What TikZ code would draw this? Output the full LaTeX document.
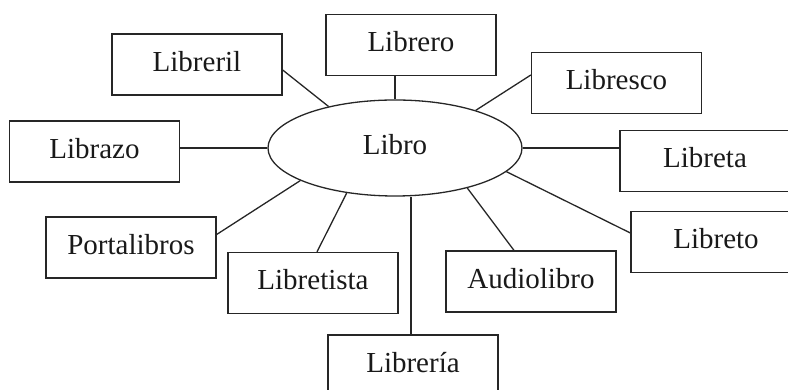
\documentclass[tikz,border=0pt]{standalone}
\usepackage{fontspec}
\setmainfont{Liberation Serif}
\usetikzlibrary{shapes.geometric}
\begin{document}
\begin{tikzpicture}[x=1pt,y=1pt,
  every node/.style={font=\fontsize{29}{34}\selectfont, text=black!90},
  wordbox/.style={draw=black!85, line width=1.3pt, minimum width=170pt, minimum height=61pt, inner sep=0pt, text height=20pt, text depth=6pt},
  hub/.style={ellipse, draw=black!85, line width=1.3pt, minimum width=254pt, minimum height=96pt, inner sep=0pt, text height=20pt, text depth=6pt},
  link/.style={draw=black!85, line width=1.3pt}]
\useasboundingbox (0,0) rectangle (788,390);
\clip (0,0) rectangle (788,390);
\node[hub] (libro) at (395,242) {Libro};
\node[wordbox] (libreril) at (197,325.5) {Libreril};
\node[wordbox] (librero) at (411,345) {Librero};
\node[wordbox] (libresco) at (616.5,307) {Libresco};
\node[wordbox] (librazo) at (94.5,238.5) {Librazo};
\node[wordbox] (libreta) at (705,229) {Libreta};
\node[wordbox] (portalibros) at (131,142.5) {Portalibros};
\node[wordbox] (libretista) at (313,107) {Libretista};
\node[wordbox] (audiolibro) at (531,108.5) {Audiolibro};
\node[wordbox] (libreto) at (716,148) {Libreto};
\node[wordbox] (libreria) at (413,24.5) {Librería};
\draw[link] ([yshift=-5.5pt]libreril.east) -- (libro.148);
\draw[link] (libro.north) -- (libro.north |- librero.south);
\draw[link] ([yshift=8pt]libresco.west) -- (libro.25);
\draw[link] (librazo.east |- libro.west) -- (libro.west);
\draw[link] (libro.east) -- (libro.east -| libreta.west);
\draw[link] ([yshift=9pt]libreto.west) -- (libro.-12.7);
\draw[link] ([xshift=-17pt]audiolibro.north) -- (libro.-29.7);
\draw[link] ([xshift=-2pt]libreria.north) -- ([xshift=-2pt]libreria.north |- libro.south);
\draw[link] ([xshift=4pt]libretista.north) -- (libro.223.7);
\draw[link] ([yshift=13pt]portalibros.east) -- (libro.199.7);
\end{tikzpicture}
\end{document}
